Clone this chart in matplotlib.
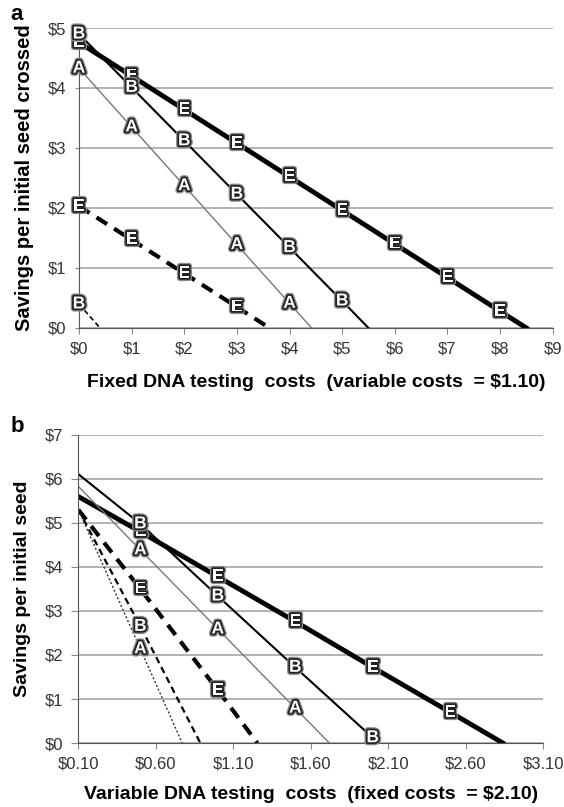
import matplotlib
matplotlib.use('Agg')
import matplotlib.pyplot as plt
import matplotlib.patheffects as pe

plt.rcParams['font.family'] = ['Liberation Sans', 'DejaVu Sans']

# Panel a: fixed DNA testing cost (x) vs savings per initial seed crossed
a_E_x = [0, 1, 2, 3, 4, 5, 6, 7, 8, 8.5]
a_E_y = [4.76, 4.20, 3.64, 3.08, 2.52, 1.96, 1.40, 0.84, 0.28, 0]
a_B_x = [0, 1, 2, 3, 4, 5, 5.5]
a_B_y = [4.90, 4.01, 3.12, 2.23, 1.34, 0.45, 0]
a_A_x = [0, 1, 2, 3, 4, 4.42]
a_A_y = [4.33, 3.35, 2.37, 1.39, 0.41, 0]
a_E2_x = [0, 1, 2, 3, 3.62]
a_E2_y = [2.03, 1.47, 0.91, 0.35, 0]
a_B2_x = [0, 0.4]
a_B2_y = [0.40, 0]
a_marker_x = [0, 1, 2, 3, 4, 5, 6, 7, 8]

# Panel b: variable DNA testing cost (x) vs savings per initial seed
b_E_x = [0.1, 0.5, 1.0, 1.5, 2.0, 2.5, 2.84]
b_E_y = [5.60, 4.80, 3.78, 2.76, 1.72, 0.70, 0]
b_B_x = [0.1, 0.5, 1.0, 1.5, 2.0, 2.03]
b_B_y = [6.11, 4.98, 3.34, 1.72, 0.12, 0]
b_A_x = [0.1, 0.5, 1.0, 1.5, 1.72]
b_A_y = [5.83, 4.39, 2.59, 0.79, 0]
b_E2_x = [0.1, 0.5, 1.0, 1.255]
b_E2_y = [5.30, 3.50, 1.20, 0]
b_B2_x = [0.1, 0.5, 0.887]
b_B2_y = [5.30, 2.65, 0]
b_A2_x = [0.1, 0.5, 0.77]
b_A2_y = [5.30, 2.14, 0]
b_marker_x = [0.5, 1.0, 1.5, 2.0, 2.5]

a_xticks = [0, 1, 2, 3, 4, 5, 6, 7, 8, 9]
a_yticks = [0, 1, 2, 3, 4, 5]
b_xticks = [0.1, 0.6, 1.1, 1.6, 2.1, 2.6, 3.1]
b_yticks = [0, 1, 2, 3, 4, 5, 6, 7]


def letters(ax, xs, ys, letter, keep):
    for x, y in zip(xs, ys):
        if x in keep:
            ax.text(x, y, letter, ha='center', va='center', fontsize=12.5,
                    fontweight='bold', color='white', zorder=5,
                    path_effects=[pe.Stroke(linewidth=4.5, foreground='#8a8a8a'),
                                  pe.Stroke(linewidth=2.6, foreground='#222222'),
                                  pe.Normal()])


def style(ax, xt, yt, xlabels, ylabels, ylen):
    ax.set_xticks(xt)
    ax.set_xticklabels(xlabels)
    ax.set_yticks(yt)
    ax.set_yticklabels(ylabels)
    ax.grid(axis='y', color='#a6a6a6', linewidth=1.2)
    ax.set_axisbelow(True)
    for s in ['top', 'right']:
        ax.spines[s].set_visible(False)
    ax.spines['left'].set_color('#555555')
    ax.spines['bottom'].set_color('#555555')
    ax.tick_params(axis='y', length=ylen, color='#888888', labelsize=12, colors='#333333', pad=6)
    ax.tick_params(axis='x', length=4, color='#888888', labelsize=12, colors='#333333', pad=6)


fig = plt.figure(figsize=(5.64, 8.07), dpi=100)

ax1 = fig.add_axes([0.140, 0.5936, 0.840, 0.3717])
ax1.plot(a_E_x, a_E_y, color='black', lw=3.5)
ax1.plot(a_B_x, a_B_y, color='black', lw=1.5)
ax1.plot(a_A_x, a_A_y, color='#777777', lw=1.0)
ax1.plot(a_E2_x, a_E2_y, color='black', lw=3.0, ls=(0, (3, 2)))
ax1.plot(a_B2_x, a_B2_y, color='black', lw=1.2, ls=(0, (3, 2)))
letters(ax1, a_E_x, a_E_y, 'E', a_marker_x)
letters(ax1, a_B_x, a_B_y, 'B', a_marker_x)
letters(ax1, a_A_x, a_A_y, 'A', a_marker_x)
letters(ax1, a_E2_x, a_E2_y, 'E', a_marker_x)
letters(ax1, a_B2_x, a_B2_y, 'B', a_marker_x)
ax1.set_xlim(0, 9)
ax1.set_ylim(0, 5)
style(ax1, a_xticks, a_yticks, ['$%d' % v for v in a_xticks], ['$%d' % v for v in a_yticks], 3)
ax1.set_xlabel('Fixed DNA testing  costs  (variable costs  = $1.10)',
               fontsize=14, fontweight='bold', labelpad=12)
ax1.set_ylabel('Savings per initial seed crossed', fontsize=14.5, fontweight='bold', labelpad=10)

ax2 = fig.add_axes([0.139, 0.0793, 0.824, 0.3817])
ax2.plot(b_E_x, b_E_y, color='black', lw=3.5)
ax2.plot(b_B_x, b_B_y, color='black', lw=1.5)
ax2.plot(b_A_x, b_A_y, color='#777777', lw=1.0)
ax2.plot(b_E2_x, b_E2_y, color='black', lw=3.0, ls=(0, (3, 2)))
ax2.plot(b_B2_x, b_B2_y, color='black', lw=1.6, ls=(0, (3, 2)))
ax2.plot(b_A2_x, b_A2_y, color='#333333', lw=1.0, ls=(0, (1.5, 1.5)))
letters(ax2, b_E_x, b_E_y, 'E', b_marker_x)
letters(ax2, b_B_x, b_B_y, 'B', b_marker_x)
letters(ax2, b_A_x, b_A_y, 'A', b_marker_x)
letters(ax2, b_E2_x, b_E2_y, 'E', b_marker_x)
letters(ax2, b_B2_x, b_B2_y, 'B', b_marker_x)
letters(ax2, b_A2_x, b_A2_y, 'A', b_marker_x)
ax2.set_xlim(0.1, 3.1)
ax2.set_ylim(0, 7)
style(ax2, b_xticks, b_yticks, ['$%.2f' % v for v in b_xticks], ['$%d' % v for v in b_yticks], 5)
ax2.set_xlabel('Variable DNA testing  costs  (fixed costs  = $2.10)',
               fontsize=14, fontweight='bold', labelpad=10)
ax2.set_ylabel('Savings per initial seed', fontsize=14, fontweight='bold', labelpad=10)

fig.text(0.018, 0.995, 'a', fontsize=16, fontweight='bold', va='top')
fig.text(0.018, 0.484, 'b', fontsize=16, fontweight='bold', va='top')

fig.savefig('out.png', dpi=100)
